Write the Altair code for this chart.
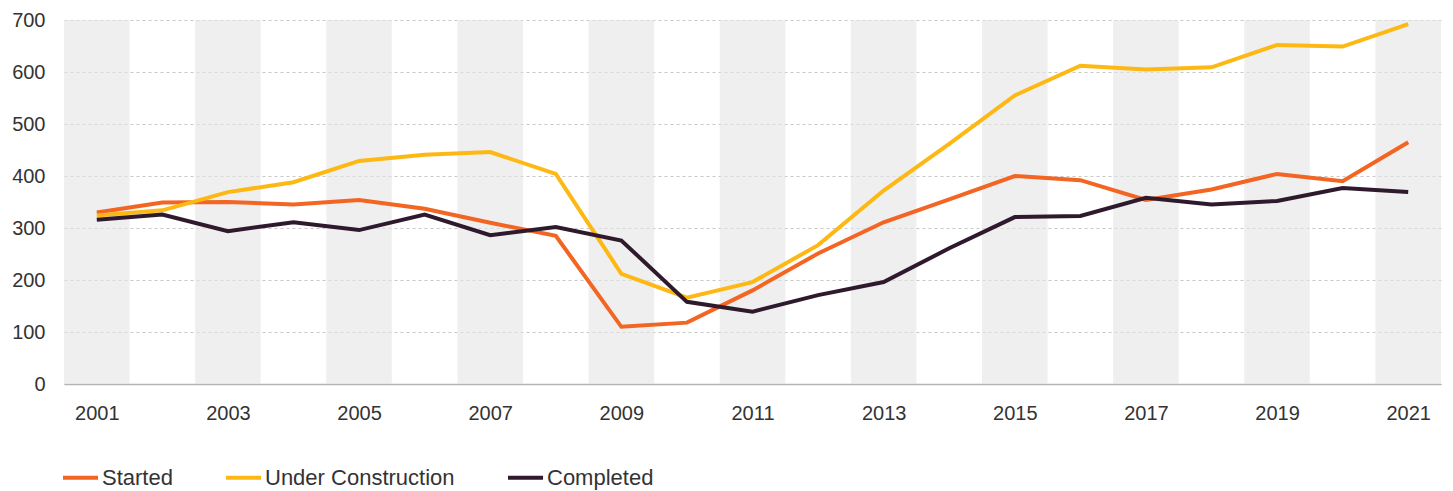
import altair as alt
import pandas as pd

years = list(range(2001, 2022))
started = [330, 349, 350, 345, 354, 337, 310, 285, 110, 118, 180, 251, 311, 355, 400, 392, 354, 374, 404, 390, 465]
under_construction = [324, 334, 369, 388, 429, 441, 446, 404, 212, 166, 196, 267, 372, 462, 555, 612, 605, 609, 652, 649, 692]
completed = [316, 326, 294, 311, 296, 326, 286, 302, 276, 158, 139, 171, 196, 261, 321, 323, 358, 345, 352, 377, 369]

series_names = ["Started", "Under Construction", "Completed"]
series_colors = ["#F26522", "#FDB813", "#2E1A2C"]
band_years = list(range(2001, 2022, 2))
y_ticks = [0, 100, 200, 300, 400, 500, 600, 700]

rows = []
for name, vals in zip(series_names, [started, under_construction, completed]):
    for yr, v in zip(years, vals):
        rows.append({"year": yr, "value": v, "series": name})
df = pd.DataFrame(rows)
bands = pd.DataFrame({"year": band_years})

W, H = 1377, 364
FONT = "Liberation Sans"

xscale = alt.Scale(domain=[2000.5, 2021.5], nice=False, zero=False)
yscale = alt.Scale(domain=[0, 700], nice=False)

x_axis = alt.Axis(values=band_years, format="d", title=None, grid=False,
                  ticks=False, labelPadding=19, labelFontSize=20,
                  labelColor="#333333", labelFont=FONT,
                  domainColor="#b3b3b3", domainWidth=1.5,
                  labelFlush=False)

band_layer = alt.Chart(bands).transform_calculate(
    x0="datum.year - 0.5", x1="datum.year + 0.5"
).mark_rect(color="#e4e4e4", opacity=0.6).encode(
    x=alt.X("x0:Q", scale=xscale, axis=x_axis),
    x2="x1:Q",
    y=alt.value(0),
    y2=alt.value(H),
)

line_layer = alt.Chart(df).mark_line(strokeWidth=4, strokeJoin="miter").encode(
    x=alt.X("year:Q", scale=xscale, axis=x_axis),
    y=alt.Y("value:Q", scale=yscale,
            axis=alt.Axis(values=y_ticks, title=None, ticks=False, domain=False,
                          labelPadding=19, labelFontSize=20, labelColor="#333333",
                          labelFont=FONT, gridColor="#c8c8c8", gridDash=[3, 3],
                          gridWidth=1)),
    color=alt.Color("series:N",
                    scale=alt.Scale(domain=series_names, range=series_colors),
                    sort=series_names,
                    legend=alt.Legend(title=None, orient="none", direction="horizontal",
                                      legendX=-3, legendY=438, symbolType="stroke",
                                      symbolSize=1225, symbolStrokeWidth=4,
                                      labelFontSize=22, labelFont=FONT,
                                      labelColor="#333333", labelOffset=2,
                                      columnPadding=45, labelLimit=0, padding=0)),
    detail="series:N",
)

chart = alt.layer(band_layer, line_layer).properties(
    width=W, height=H,
    autosize=alt.AutoSizeParams(type="none"),
    padding={"left": 64, "top": 20, "right": 12, "bottom": 107},
    background="white",
).configure_view(stroke=None)

chart.save("out.html", embed_options={"renderer": "svg", "actions": False})
